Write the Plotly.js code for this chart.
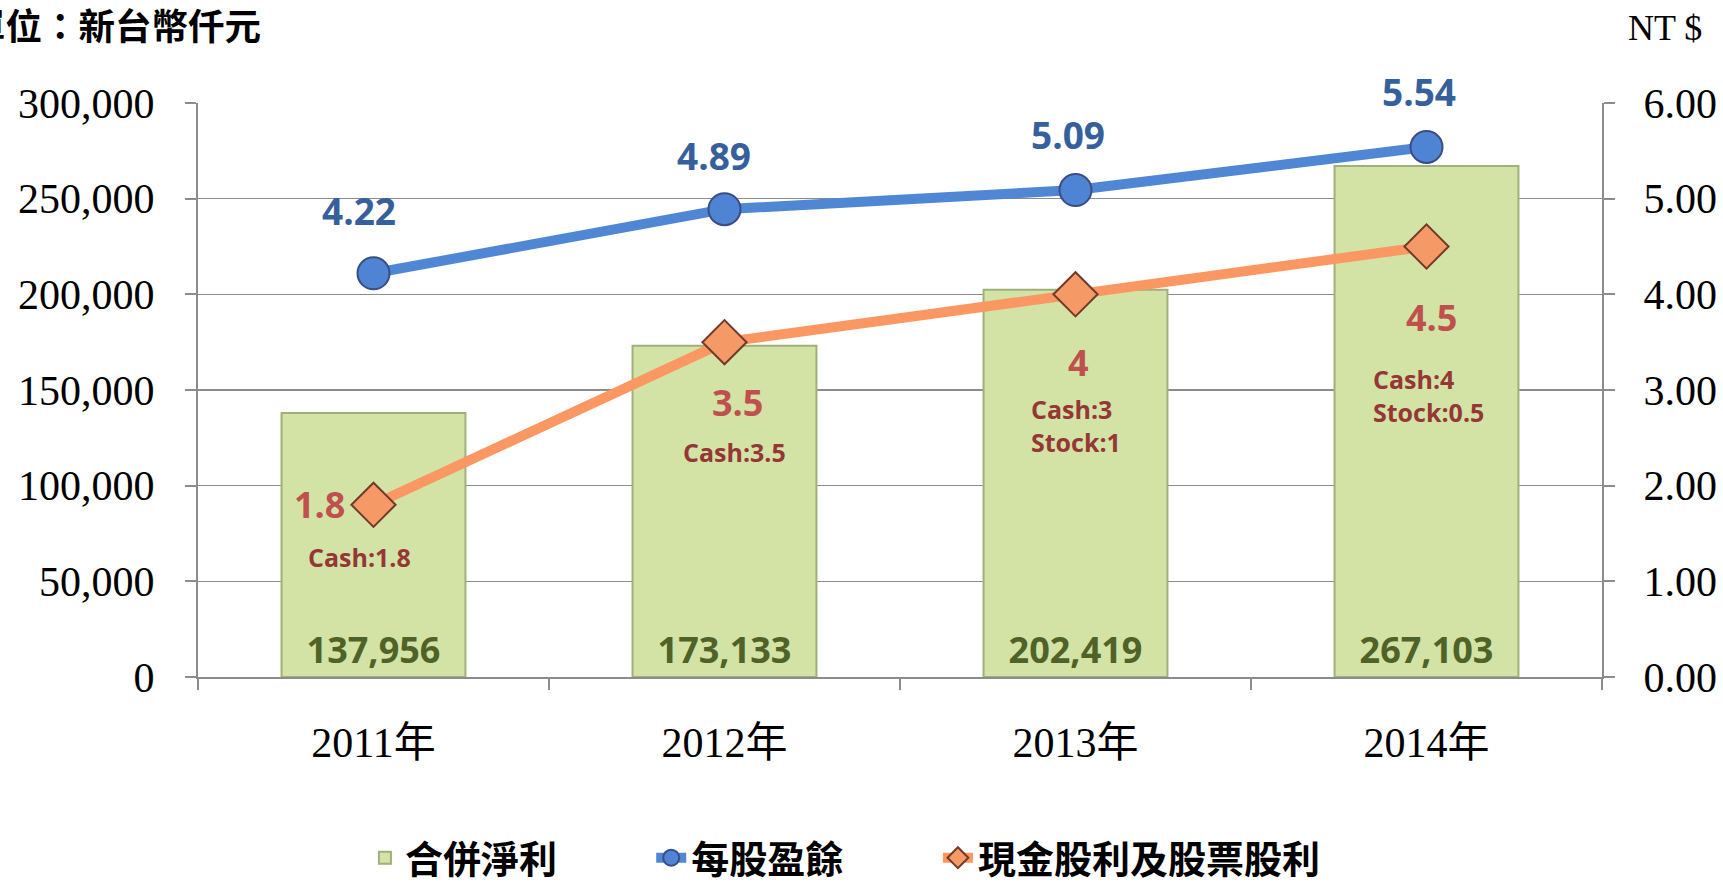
<!DOCTYPE html>
<html>
<head>
<meta charset="utf-8">
<script src="https://cdn.plot.ly/plotly-3.0.1.min.js"></script>
<style>html,body{margin:0;padding:0;background:#fff;}#chart{width:1723px;height:886px;}</style>
</head>
<body>
<div id="chart"></div>
<script>
const years = ["2011年", "2012年", "2013年", "2014年"];
const netIncome = [137956, 173133, 202419, 267103];
const eps = [4.22, 4.89, 5.09, 5.54];
const dividend = [1.8, 3.5, 4, 4.5];
const cashDiv = [1.8, 3.5, 3, 4];
const stockDiv = [0, 0, 1, 0.5];
const seriesNames = ["合併淨利", "每股盈餘", "現金股利及股票股利"];
const unitLabel = "單位：新台幣仟元";
const rightUnit = "NT $";

const SANS = "'Open Sans', 'Noto Sans', sans-serif";
const SERIF = "'Liberation Serif', 'Noto Sans CJK TC', serif";
const CJK = "'Noto Sans CJK TC', sans-serif";

const bars = {
  type: "bar", name: seriesNames[0], x: years, y: netIncome, legend: "legend",
  marker: {color: "#d2e3a5", line: {color: "#9fb07a", width: 2}},
  text: netIncome.map(v => v.toLocaleString("en-US")),
  textposition: "inside", insidetextanchor: "start",
  textfont: {family: SANS, size: 36, color: "#4f6228", weight: "bold"},
  cliponaxis: false, hoverinfo: "none"
};
const epsLine = {
  type: "scatter", mode: "lines+markers", name: seriesNames[1], x: years, y: eps, yaxis: "y2", legend: "legend2",
  line: {color: "#4f87d4", width: 10},
  marker: {symbol: "circle", size: 32, color: "#4f84d4", line: {color: "#3a4d86", width: 2}},
  hoverinfo: "none", cliponaxis: false
};
const divLine = {
  type: "scatter", mode: "lines+markers", name: seriesNames[2], x: years, y: dividend, yaxis: "y2", legend: "legend3",
  line: {color: "#fb9762", width: 10},
  marker: {symbol: "diamond", size: 34, color: "#f59a66", line: {color: "#733a2a", width: 2}},
  hoverinfo: "none", cliponaxis: false
};

const annotations = [];
annotations.push({xref: "paper", yref: "paper", x: 0.0463, y: 1.136, xanchor: "right", yanchor: "middle",
  text: unitLabel, showarrow: false, font: {family: CJK, size: 36.5, color: "#000", weight: "bold"}});
annotations.push({xref: "paper", yref: "paper", x: 1.0449, y: 1.1307, xanchor: "center", yanchor: "middle",
  text: rightUnit, showarrow: false, font: {family: SERIF, size: 36, color: "#000"}});

const epsShift = [[-15, 63], [-11, 54], [-8, 56], [-8, 56]];
eps.forEach((v, i) => annotations.push({
  x: years[i], y: v, xref: "x", yref: "y2", text: v.toFixed(2), showarrow: false,
  xshift: epsShift[i][0], yshift: epsShift[i][1],
  font: {family: SANS, size: 37, color: "#35609b", weight: "bold"}
}));

const divShift = [[-54, 0], [13, -60], [3, -68], [5, -71]];
dividend.forEach((v, i) => annotations.push({
  x: years[i], y: v, xref: "x", yref: "y2", text: String(v), showarrow: false,
  xshift: divShift[i][0], yshift: divShift[i][1],
  font: {family: SANS, size: 36, color: "#c0504d", weight: "bold"}
}));

const detailPos = [[-14, -52, "center"], [10, -110, "center"], [-47, -131, "left"], [-56, -149, "left"]];
cashDiv.forEach((c, i) => {
  let t = "Cash:" + c;
  if (stockDiv[i] > 0) t += "<br>Stock:" + stockDiv[i];
  annotations.push({
    x: years[i], y: dividend[i], xref: "x", yref: "y2", text: t, showarrow: false,
    xshift: detailPos[i][0], yshift: detailPos[i][1],
    xanchor: detailPos[i][2], yanchor: "middle", align: "left",
    font: {family: SANS, size: 25, color: "#953735", weight: "bold"}
  });
});

function legendAt(x) {
  return {orientation: "h", x: x, xanchor: "left", y: -0.3153, yanchor: "middle",
    font: {family: CJK, size: 38, color: "#000", weight: "bold"}, itemsizing: "trace",
    bgcolor: "rgba(0,0,0,0)"};
}

const layout = {
  width: 1723, height: 886,
  margin: {l: 198, r: 121, t: 103, b: 209, autoexpand: false},
  paper_bgcolor: "#fff", plot_bgcolor: "#fff",
  bargap: 0.476,
  showlegend: true,
  legend: legendAt(0.1189),
  legend2: legendAt(0.3228),
  legend3: legendAt(0.5270),
  xaxis: {
    type: "category", showline: true, linecolor: "#8c8c8c", linewidth: 2,
    ticks: "outside", tickson: "boundaries", ticklen: 11, tickcolor: "#8c8c8c", tickwidth: 2,
    tickfont: {family: SERIF, size: 42, color: "#000"}, ticklabelstandoff: 28,
    showgrid: false, zeroline: false, fixedrange: true, automargin: false
  },
  yaxis: {
    range: [0, 300000], dtick: 50000, tick0: 0, tickformat: ",",
    showline: true, linecolor: "#8c8c8c", linewidth: 2,
    ticks: "outside", ticklen: 11, tickcolor: "#8c8c8c", tickwidth: 2,
    showgrid: true, gridcolor: "#8c8c8c", gridwidth: 1.5, zeroline: false,
    tickfont: {family: SERIF, size: 42, color: "#000"}, ticklabelstandoff: 22, fixedrange: true, automargin: false
  },
  yaxis2: {
    range: [0, 6], dtick: 1, tick0: 0, tickformat: ".2f", overlaying: "y", side: "right",
    showline: true, linecolor: "#8c8c8c", linewidth: 2,
    ticks: "outside", ticklen: 11, tickcolor: "#8c8c8c", tickwidth: 2,
    showgrid: false, zeroline: false,
    tickfont: {family: SERIF, size: 42, color: "#000"}, ticklabelstandoff: 20, fixedrange: true, automargin: false
  },
  annotations: annotations
};

Plotly.newPlot("chart", [bars, epsLine, divLine], layout, {displayModeBar: false, staticPlot: true});
</script>
</body>
</html>
